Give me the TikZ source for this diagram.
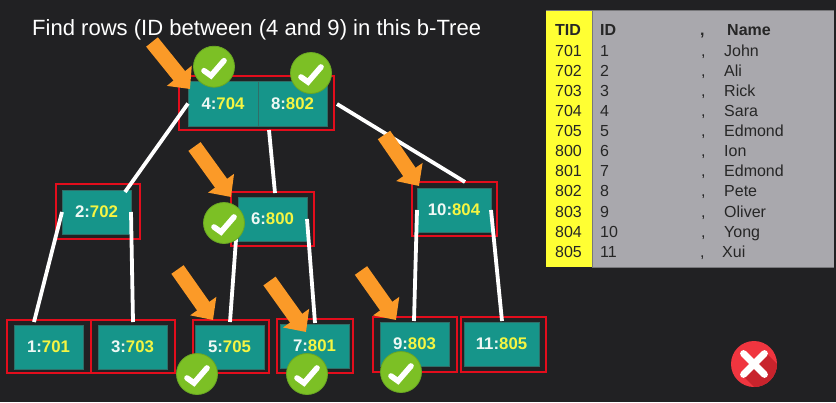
\documentclass[tikz,border=0pt]{standalone}
\usepackage{fontspec}
\setmainfont{Liberation Sans}
\usetikzlibrary{calc,arrows.meta}
\definecolor{bgdark}{HTML}{212123}
\definecolor{keyteal}{HTML}{16958A}
\definecolor{keyedge}{HTML}{2F6E68}
\definecolor{keyred}{HTML}{E30D1C}
\definecolor{keyyellow}{HTML}{F5F542}
\definecolor{keywhite}{HTML}{EEF8F4}
\definecolor{markorange}{HTML}{FB9A28}
\definecolor{okgreen}{HTML}{7CC025}
\definecolor{okedge}{HTML}{6AA823}
\definecolor{tidyellow}{HTML}{FFFF33}
\definecolor{rowgray}{HTML}{A9A8AD}
\definecolor{rowedge}{HTML}{77777A}
\definecolor{badred}{HTML}{F0353F}
\definecolor{badshade}{HTML}{C8232C}
\tikzset{
  keybox/.style={draw=keyedge,line width=0.8pt,fill=keyteal,inner sep=0pt,outer sep=0pt,
    font=\fontsize{16.8}{18}\selectfont\bfseries,text=keywhite},
  redbox/.style={draw=keyred,line width=1.7pt,inner sep=0pt,outer sep=0pt},
  treeedge/.style={draw=white,line width=3.8pt},
  pointer/.style={draw=markorange,line width=15pt,-{Triangle[length=17pt,width=31pt]}},
  okbadge/.style={circle,minimum size=41pt,inner sep=0pt,fill=okgreen,draw=okedge,line width=0.8pt},
  tick/.style={draw=white,line width=5.6pt,line join=miter,line cap=round},
  celltext/.style={anchor=base west,inner sep=0pt,font=\fontsize{16}{18}\selectfont,text=black!85},
}
% name, x1, y1, x2, y2 of the red frame; x1, y1, x2, y2 of the teal box; two label parts
\newcommand\btreekey[8]{%
  \node[redbox,minimum width={#4-#2},minimum height={#5-#3}] (r#1) at ({(#2+#4)/2},{(#3+#5)/2}) {};
  \node[keybox,minimum width={#8},minimum height=44] (#1) at (#6,#7) {\keylabel};
}
\newcommand\orangepointer[5]{%
  \coordinate (pt#1) at (#2,#3);
  \coordinate (ph#1) at (#4,#5);
  \draw[pointer] (pt#1) -- (ph#1);
}
\newcommand\okmark[3]{%
  \node[okbadge] (ok#1) at (#2,#3) {};
  \draw[tick] ($(ok#1)+(-10,4)$) -- ($(ok#1)+(-3,9)$) -- ($(ok#1)+(10,-6)$);
}
\newcommand\tablerow[7]{%
  \node[celltext] (t#2) at (555,#1) {#7#2};
  \node[celltext] (i#2) at (600,#1) {#7#3};
  \node[celltext] (c#2) at (#6,#1) {#7,};
  \node[celltext] (n#2) at (#5,#1) {#7#4};
}
\begin{document}
\begin{tikzpicture}[x=1pt,y=-1pt]
\useasboundingbox (0,0) rectangle (836,402);
\fill[bgdark] (0,0) rectangle (836,402);

\node[anchor=base west,inner sep=0pt,text=white,font=\fontsize{22.05}{25}\selectfont] (title) at (32,35) {Find rows (ID between (4 and 9) in this b-Tree};

% table
\fill[rowgray] (592,11) rectangle (834,267);
\fill[tidyellow] (546,11) rectangle (592,267);
\draw[rowedge,line width=0.8pt] (546,10.5) -- (834,10.5);
\draw[rowedge,line width=0.8pt] (592,11) -- (592,267) -- (834,267);
\tablerow{35}{TID}{ID}{Name}{727}{700}{\bfseries}
\tablerow{56}{701}{1}{John}{724}{701}{}
\tablerow{76}{702}{2}{Ali}{724}{701}{}
\tablerow{96}{703}{3}{Rick}{724}{701}{}
\tablerow{116}{704}{4}{Sara}{724}{701}{}
\tablerow{136}{705}{5}{Edmond}{724}{701}{}
\tablerow{156.7}{800}{6}{Ion}{724}{701}{}
\tablerow{176.7}{801}{7}{Edmond}{724}{701}{}
\tablerow{196.7}{802}{8}{Pete}{724}{701}{}
\tablerow{217}{803}{9}{Oliver}{724}{701}{}
\tablerow{237}{804}{10}{Yong}{724}{701}{}
\tablerow{257}{805}{11}{Xui}{722}{700}{}

% tree keys
\newcommand\keylabel{}
\renewcommand\keylabel{4:\textcolor{keyyellow}{704}}
\node[redbox,minimum width=155,minimum height=54] (rroot) at (256.5,103) {};
\node[keybox,minimum width=70,minimum height=45] (a) at (223,103.5) {\keylabel};
\renewcommand\keylabel{8:\textcolor{keyyellow}{802}}
\node[keybox,minimum width=69,minimum height=45] (b) at (292.5,103.5) {\keylabel};
\renewcommand\keylabel{2:\textcolor{keyyellow}{702}}
\btreekey{k2}{56}{184}{140}{239}{96.5}{212}{69}
\renewcommand\keylabel{6:\textcolor{keyyellow}{800}}
\btreekey{k6}{231}{192}{314}{246}{272.5}{219}{69}
\renewcommand\keylabel{10:\textcolor{keyyellow}{804}}
\btreekey{k10}{412}{182}{497}{236}{454}{210}{74}
\renewcommand\keylabel{1:\textcolor{keyyellow}{701}}
\btreekey{k1}{7}{320}{91}{373}{48.5}{347}{69}
\renewcommand\keylabel{3:\textcolor{keyyellow}{703}}
\btreekey{k3}{91}{320}{175}{373}{132.5}{347}{69}
\renewcommand\keylabel{5:\textcolor{keyyellow}{705}}
\btreekey{k5}{193}{320}{269}{373}{229.5}{347}{69}
\renewcommand\keylabel{7:\textcolor{keyyellow}{801}}
\btreekey{k7}{277}{319}{353}{373}{314.5}{346}{69}
\renewcommand\keylabel{9:\textcolor{keyyellow}{803}}
\btreekey{k9}{373}{317}{457}{372}{414.5}{344}{69}
\renewcommand\keylabel{11:\textcolor{keyyellow}{805}}
\btreekey{k11}{461}{317}{546}{372}{501.5}{344}{75}

% tree edges
\draw[treeedge] (a.west) -- ($(k2.north east)+(-6,2)$);
\draw[treeedge] ($(rroot.south)+(12.5,0)$) -- ($(rk6.north)+(2.5,1)$);
\draw[treeedge] ($(rroot.east)+(3,1)$) -- ($(rk10.north)+(10.5,0)$);
\draw[treeedge] (k2.west) -- ($(k1.north)+(-14.5,-3)$);
\draw[treeedge] (k2.east) -- ($(k3.north)+(0.5,-3)$);
\draw[treeedge] ($(k6.west)+(-0.5,0)$) -- ($(k5.north)+(0.5,-3)$);
\draw[treeedge] (k6.east) -- ($(k7.north)+(0.5,-1)$);
\draw[treeedge] (k10.west) -- ($(k9.north)+(-0.5,-1)$);
\draw[treeedge] (k10.east) -- ($(k11.north)+(0.5,-1)$);

% pointers
\orangepointer{1}{152}{42}{190}{89}
\orangepointer{2}{194.5}{146.5}{231}{197}
\orangepointer{3}{384}{135}{419}{186}
\orangepointer{4}{177.5}{269.5}{213}{320}
\orangepointer{5}{269.5}{281}{306}{332}
\orangepointer{6}{361}{270.5}{396}{320}

% badges
\okmark{1}{214}{66.7}
\okmark{2}{311}{73}
\okmark{3}{224}{223}
\okmark{4}{197}{374}
\okmark{5}{307}{374}
\okmark{6}{401}{372}

% red cross
\node[circle,minimum size=46pt,inner sep=0pt,fill=badred] (cross) at (754,364) {};
\begin{scope}
  \clip (754,364) circle (23pt);
  \fill[badshade] ($(cross)+(-12,11)$) -- ($(cross)+(11,-12)$) -- ($(cross)+(40,17)$) -- ($(cross)+(17,40)$) -- cycle;
\end{scope}
\draw[draw=white,line width=6.8pt,line cap=round] ($(cross)+(-10.5,-10.5)$) -- ($(cross)+(10.5,10.5)$);
\draw[draw=white,line width=6.8pt,line cap=round] ($(cross)+(10.5,-10.5)$) -- ($(cross)+(-10.5,10.5)$);
\end{tikzpicture}
\end{document}
